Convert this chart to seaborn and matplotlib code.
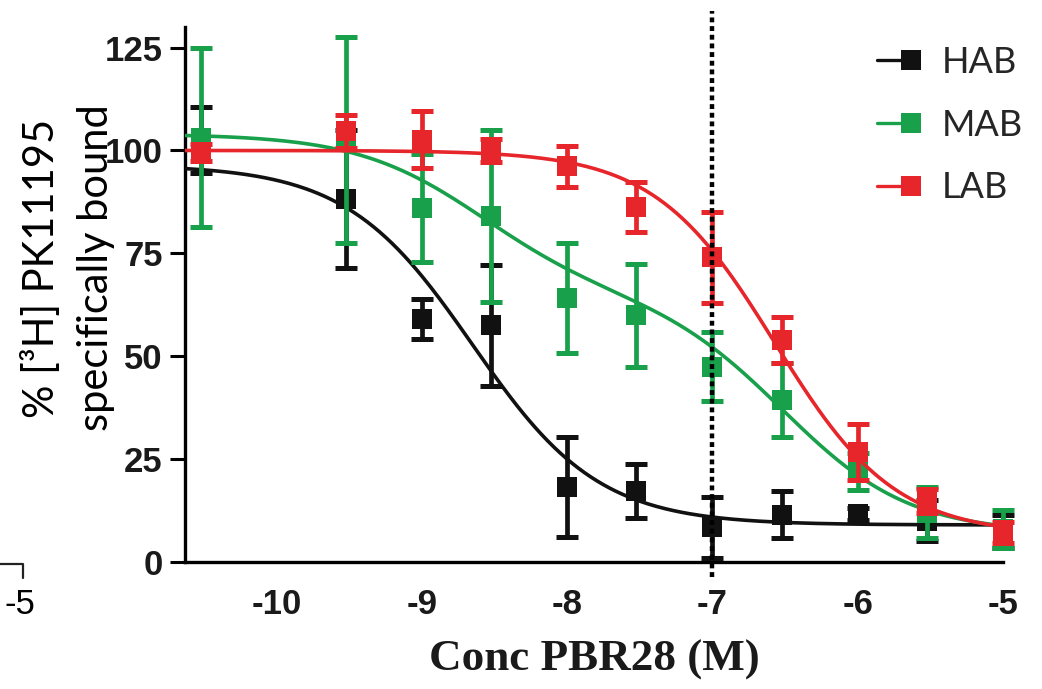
import numpy as np
import pandas as pd
import matplotlib
matplotlib.use("Agg")
import matplotlib.pyplot as plt
import seaborn as sns
from matplotlib.legend_handler import HandlerLine2D
from matplotlib.lines import Line2D

# ---- competition binding data: % [3H]PK11195 specifically bound (mean, SEM) ----
conc_molar = [3e-11, 3e-10, 1e-9, 3e-9, 1e-8, 3e-8, 1e-7, 3e-7, 1e-6, 3e-6, 1e-5]
groups = ["HAB", "MAB", "LAB"]
colors = ["#111111", "#19a04b", "#e6262b"]

hab_mean = [102.5, 88.2, 59.0, 57.5, 18.2, 17.2, 8.4, 11.5, 11.6, 10.0, 7.5]
hab_sem = [8.0, 16.8, 4.8, 14.7, 12.2, 6.6, 7.4, 5.7, 1.5, 5.0, 4.0]
mab_mean = [103.1, 102.6, 86.0, 84.1, 64.2, 60.0, 47.5, 39.3, 22.0, 12.0, 8.0]
mab_sem = [21.7, 25.0, 13.1, 20.9, 13.4, 12.5, 8.4, 9.0, 4.6, 6.2, 4.7]
lab_mean = [99.5, 104.7, 102.6, 100.1, 96.2, 86.3, 74.0, 54.0, 26.7, 14.8, 7.2]
lab_sem = [2.0, 4.0, 6.9, 2.8, 5.0, 6.1, 11.1, 5.6, 6.8, 3.0, 2.5]

# fitted model parameters
hab_fit = dict(top=96.5, bottom=9.0, log_ic50=-8.65, hill=1.0)          # one site
lab_fit = dict(top=100.0, bottom=6.5, log_ic50=-6.57, hill=1.05)        # one site
mab_fit = dict(top=104.0, bottom=7.0, frac_high=0.4,
               log_ic50_high=-8.6, log_ic50_low=-6.5)                   # two site

x_ticks = [-10, -9, -8, -7, -6, -5]
x_tick_labels = ["-10", "-9", "-8", "-7", "-6", "-5"]
y_ticks = [0, 25, 50, 75, 100, 125]
y_tick_labels = ["0", "25", "50", "75", "100", "125"]
ref_log_conc = -7.0
x_lim = (-10.63, -5.0)
y_lim = (0, 130)


def one_site(x, top, bottom, log_ic50, hill):
    return bottom + (top - bottom) / (1 + 10 ** (hill * (x - log_ic50)))


def two_site(x, top, bottom, frac_high, log_ic50_high, log_ic50_low):
    span = top - bottom
    return bottom + span * (frac_high / (1 + 10 ** (x - log_ic50_high))
                            + (1 - frac_high) / (1 + 10 ** (x - log_ic50_low)))


log_conc = np.log10(conc_molar)
x_fit = np.linspace(x_lim[0], x_lim[1], 400)
fit_curves = {
    "HAB": one_site(x_fit, **hab_fit),
    "MAB": two_site(x_fit, **mab_fit),
    "LAB": one_site(x_fit, **lab_fit),
}
points = pd.DataFrame({
    "log_conc": np.tile(log_conc, 3),
    "bound": hab_mean + mab_mean + lab_mean,
    "sem": hab_sem + mab_sem + lab_sem,
    "group": np.repeat(groups, len(log_conc)),
})
curves = pd.DataFrame({
    "log_conc": np.tile(x_fit, 3),
    "bound": np.concatenate([fit_curves[g] for g in groups]),
    "group": np.repeat(groups, len(x_fit)),
})

sns.set_theme(style="ticks")
plt.rcParams["font.family"] = ["Liberation Sans", "DejaVu Sans"]

W, H = 1042, 689
fig = plt.figure(figsize=(W / 100, H / 100), dpi=100)
fig.patch.set_facecolor("white")
ax = fig.add_axes([185 / W, 1 - 562 / H, (1003 - 185) / W, (562 - 27) / H])
ax.set_facecolor("white")

for i, (g, c) in enumerate(zip(groups, colors)):
    z = 3 + 3 * i
    cdf = curves[curves.group == g]
    pdf = points[points.group == g]
    sns.lineplot(data=cdf, x="log_conc", y="bound", color=c, lw=2.6,
                 ax=ax, legend=False, zorder=z)
    eb = ax.errorbar(pdf.log_conc, pdf.bound, yerr=pdf["sem"], fmt="none",
                     ecolor=c, elinewidth=3.4, capsize=8, capthick=3.6,
                     zorder=z + 1)
    for art in list(eb.lines[1]) + list(eb.lines[2]):
        art.set_clip_on(False)
    sns.scatterplot(data=pdf, x="log_conc", y="bound", marker="s", s=200,
                    color=c, linewidth=0, ax=ax, legend=False,
                    zorder=z + 2, clip_on=False)

# vertical reference line at 100 nM
ax.axvline(ref_log_conc, ymin=-0.028, ymax=1.03, color="black", lw=3.2,
           linestyle=(0, (1.1, 0.85)), clip_on=False, zorder=30)

ax.set_xlim(*x_lim)
ax.set_ylim(*y_lim)
ax.set_xticks(x_ticks)
ax.set_xticklabels(x_tick_labels)
ax.set_yticks(y_ticks)
ax.set_yticklabels(y_tick_labels)
ax.tick_params(axis="x", length=0, pad=19, labelsize=25, labelcolor="#1a1a1a")
ax.tick_params(axis="y", length=11, width=2.2, pad=5, labelsize=25,
               labelcolor="#1a1a1a", color="black")
for lbl in ax.get_xticklabels() + ax.get_yticklabels():
    lbl.set_fontweight("bold")
sns.despine(ax=ax)
for side in ("left", "bottom"):
    ax.spines[side].set_linewidth(2.4)
    ax.spines[side].set_color("black")
ax.set_ylabel("")
ax.set_xlabel("Conc PBR28 (M)", fontfamily="Liberation Serif",
              fontweight="bold", fontsize=32.5, labelpad=13, color="#1a1a1a")

fig.text(68 / W, 1 - 268 / H, "% [³H] PK11195\nspecifically bound",
         rotation=90, ha="center", va="center", multialignment="center",
         fontsize=30, fontfamily="Lato", linespacing=1.5, color="black")


class EndMarkerHandler(HandlerLine2D):
    """Legend entry: short line ending in the marker."""

    def create_artists(self, *args, **kwargs):
        arts = super().create_artists(*args, **kwargs)
        for a in arts:
            a.set_markevery([2])
        return arts


handles = [Line2D([], [], color=c, lw=2.4, marker="s", markersize=14,
                  markeredgewidth=0) for c in colors]
ax.legend(handles, groups, loc="upper left",
          bbox_to_anchor=(877 / W, 1 - 46 / H), bbox_transform=fig.transFigure,
          frameon=False, borderpad=0, borderaxespad=0, handlelength=0.95,
          handletextpad=0.85, labelspacing=0.82, numpoints=1,
          prop={"family": "Lato", "size": 26},
          handler_map={Line2D: EndMarkerHandler()})

# fragment of a neighbouring panel at the lower-left edge
fig.text(5 / W, 1 - 605 / H, "-5", ha="left", va="center", fontsize=25,
         fontfamily="Liberation Sans", color="black")
fig.add_artist(Line2D([0, 23 / W, 23 / W], [1 - 564 / H, 1 - 564 / H, 1 - 578 / H],
                      transform=fig.transFigure, color="#222222", lw=1.6))

fig.savefig("out.png", dpi=100, facecolor="white")
